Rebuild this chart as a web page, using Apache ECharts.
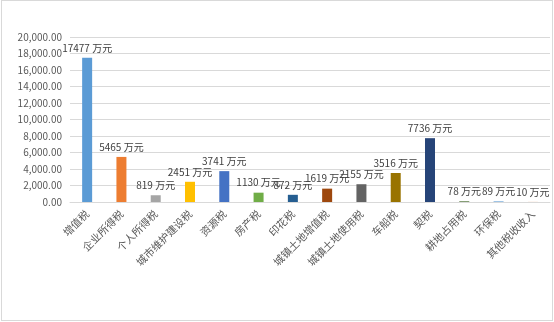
<!DOCTYPE html>
<html><head><meta charset="utf-8">
<script src="https://cdn.jsdelivr.net/npm/echarts@6/dist/echarts.min.js"></script>
<style>
html,body{margin:0;padding:0;background:#fff;}
#frame{position:absolute;left:1px;top:0;width:550px;height:319px;border:1px solid #d9d9d9;}
#c{position:absolute;left:0;top:0;width:554px;height:322px;}
</style></head><body>
<div id="frame"></div>
<div id="c"></div>
<script>
var categories = ["增值税","企业所得税","个人所得税","城市维护建设税","资源税","房产税","印花税","城镇土地增值税","城镇土地使用税","车船税","契税","耕地占用税","环保税","其他税收收入"];
var values = [17477,5465,819,2451,3741,1130,872,1619,2155,3516,7736,78,89,10];
var colors = ["#5B9BD5","#ED7D31","#A5A5A5","#FFC000","#4472C4","#70AD47","#255E91","#9E480E","#636363","#997300","#264478","#43682B","#7CAFDD","#F1975A"];
var yTicks = {min:0, max:20000, interval:2000};
var unit = " 万元";

var chart = echarts.init(document.getElementById('c'));
var font = '"Noto Sans CJK SC", "Microsoft YaHei", sans-serif';
chart.setOption({
  animation:false,
  grid:{left:70, right:4, top:37, bottom:120, containLabel:false},
  xAxis:{
    type:'category', data:categories,
    axisLine:{lineStyle:{color:'#d9d9d9'}},
    axisTick:{show:false},
    axisLabel:{rotate:45, interval:0, color:'#595959', fontSize:10.5, fontFamily:font, margin:10}
  },
  yAxis:{
    type:'value', min:yTicks.min, max:yTicks.max, interval:yTicks.interval,
    axisLine:{show:false}, axisTick:{show:false},
    splitLine:{lineStyle:{color:'#d9d9d9'}},
    axisLabel:{color:'#595959', fontSize:10, fontFamily:font, margin:8,
      formatter:function(v){return v.toLocaleString('en-US',{minimumFractionDigits:2,maximumFractionDigits:2});}}
  },
  series:[{
    type:'bar', barWidth:10,
    data: values.map(function(v,i){return {value:v, itemStyle:{color:colors[i]}};}),
    label:{show:true, position:'top', distance:5, color:'#404040', fontSize:10, fontFamily:font,
      formatter:function(p){return p.value + unit;}}
  }]
});
</script></body></html>
